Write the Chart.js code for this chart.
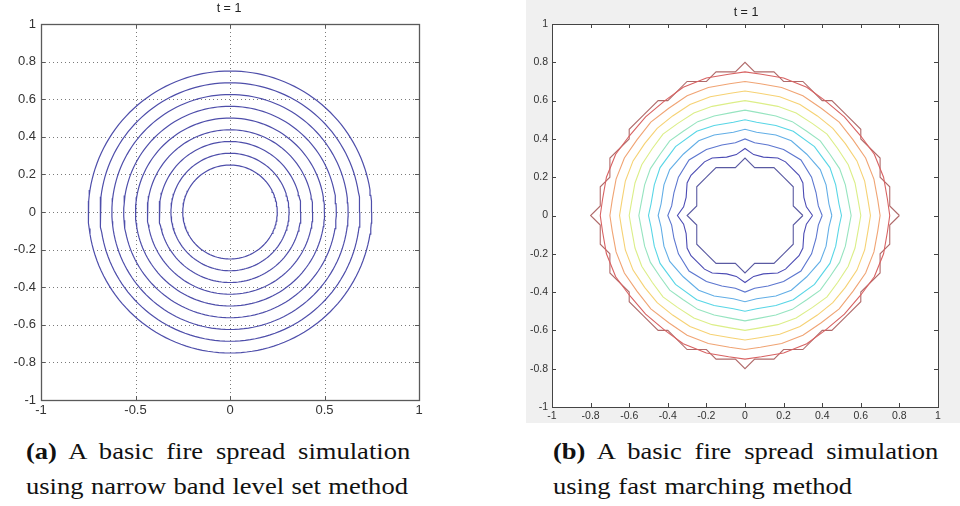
<!DOCTYPE html>
<html><head><meta charset="utf-8">
<script src="https://cdn.jsdelivr.net/npm/chart.js@4/dist/chart.umd.min.js"></script>
<style>
html,body{margin:0;padding:0;background:#fff;width:960px;height:506px;overflow:hidden;position:relative;font-family:"Liberation Sans",Arial,sans-serif;}
canvas{position:absolute;}
#cL{left:0;top:0;}
#cR{left:526px;top:0;background:#f0f0f0;}
.ttl{position:absolute;font-size:12.5px;color:#222;transform:translate(-50%,-50%);white-space:nowrap;}
.cap{position:absolute;font-family:"Liberation Serif",serif;font-size:23.5px;line-height:35px;color:#111;white-space:nowrap;transform:scaleX(1.13);transform-origin:0 0;}
.j{text-align:justify;text-align-last:justify;}
.cap b{font-weight:bold;}
</style></head><body>
<canvas id="cL" width="440" height="425"></canvas>
<canvas id="cR" width="434" height="423"></canvas>
<div class="ttl" style="left:229px;top:8px;">t = 1</div>
<div class="ttl" style="left:746px;top:12px;">t = 1</div>
<div class="cap j" style="left:26px;top:434px;width:340px;"><b>(a)</b> A basic fire spread simulation</div>
<div class="cap j" style="left:26px;top:469px;width:338px;">using narrow band level set method</div>
<div class="cap j" style="left:553px;top:434px;width:341px;"><b>(b)</b> A basic fire spread simulation</div>
<div class="cap" style="left:553px;top:469px;word-spacing:1px;">using fast marching method</div>
<script>
// ---------------- data ----------------
// (a) narrow band level set: radii of the circular contours
const leftRadii = [0.25, 0.3125, 0.375, 0.4375, 0.5, 0.5625, 0.625, 0.6875, 0.75];
const leftXTicks = [-1, -0.5, 0, 0.5, 1];
const leftYTicks = [-1, -0.8, -0.6, -0.4, -0.2, 0, 0.2, 0.4, 0.6, 0.8, 1];

// (b) fast marching: contour levels and the vertices of each contour in the
// first octant (from the +x axis up to the 45 degree diagonal)
const rightLevels = [0.30, 0.35, 0.40, 0.45, 0.50, 0.55, 0.60, 0.65, 0.70, 0.75, 0.80];
const oct030 = [[0.30,0],[0.25,0.05],[0.25,0.15],[0.20,0.20]];
const oct035 = [[0.35,0],[0.318,0.045],[0.305,0.095],[0.30,0.17],[0.28,0.21],[0.245,0.245]];
const oct040 = [[0.40,0],[0.38,0.05],[0.368,0.12],[0.345,0.20],[0.29,0.29]];
const oct045 = [[0.45,0],[0.435,0.06],[0.42,0.16],[0.39,0.24],[0.32,0.32]];
const oct050 = [[0.50,0],[0.487,0.06],[0.47,0.16],[0.44,0.25],[0.36,0.36]];
const oct055 = [[0.55,0],[0.537,0.07],[0.52,0.16],[0.49,0.245],[0.44,0.32],[0.39,0.39]];
const oct060 = [[0.60,0],[0.588,0.07],[0.57,0.17],[0.535,0.265],[0.48,0.35],[0.425,0.425]];
const oct065 = [[0.65,0],[0.638,0.075],[0.62,0.18],[0.58,0.285],[0.52,0.375],[0.455,0.455]];
const oct070 = [[0.70,0],[0.688,0.08],[0.668,0.19],[0.625,0.30],[0.56,0.395],[0.488,0.488]];
const oct075 = [[0.75,0],[0.738,0.085],[0.718,0.20],[0.67,0.32],[0.60,0.415],[0.515,0.515]];
const oct080 = [[0.80,0],[0.75,0.05],[0.75,0.15],[0.70,0.20],[0.70,0.30],[0.60,0.40],[0.60,0.45],[0.525,0.525]];
const rightOctants = [oct030, oct035, oct040, oct045, oct050, oct055, oct060, oct065, oct070, oct075, oct080];
const rightXTicks = [-1, -0.8, -0.6, -0.4, -0.2, 0, 0.2, 0.4, 0.6, 0.8, 1];
const rightYTicks = [-1, -0.8, -0.6, -0.4, -0.2, 0, 0.2, 0.4, 0.6, 0.8, 1];

// ---------------- styles ----------------
const leftColor = '#4e4eaa';
const rightColors = ['#5a5aa2','#4c4cb4','#5c76cf','#62aee6','#58d6e6','#96e4c0','#dcee88','#f6d274','#f0a474','#d86262','#b06a6a'];

// ---------------- geometry helpers ----------------
function circleLoop(r) {
  const pts = [];
  const n = 160;
  for (let k = 0; k <= n; k++) {
    const a = k / n * 2 * Math.PI;
    pts.push({x: r * Math.cos(a), y: r * Math.sin(a)});
  }
  return pts;
}
// mirror an octant polyline into the closed contour (4-fold mirror symmetry)
function loopFromOctant(P) {
  const q1 = P.concat(P.slice(0, -1).reverse().map(([x, y]) => [y, x]));
  const upper = q1.concat(q1.slice(0, -1).reverse().map(([x, y]) => [-x, y]));
  const full = upper.concat(upper.slice(0, -1).reverse().map(([x, y]) => [x, -y]));
  return full.map(([x, y]) => ({x, y}));
}

const framePlugin = {
  id: 'frame',
  beforeDatasetsDraw(chart, args, o) {
    const {ctx, chartArea: a, scales: {x, y}} = chart;
    ctx.save();
    if (o.white) { ctx.fillStyle = '#fff'; ctx.fillRect(a.left, a.top, a.right - a.left, a.bottom - a.top); }
    if (o.grid) {
      ctx.strokeStyle = o.gridColor; ctx.lineWidth = 1; ctx.setLineDash([1, 3]);
      ctx.beginPath();
      for (const v of o.xTicks) { const px = Math.round(x.getPixelForValue(v)) + 0.5; ctx.moveTo(px, a.top); ctx.lineTo(px, a.bottom); }
      for (const v of o.yTicks) { const py = Math.round(y.getPixelForValue(v)) + 0.5; ctx.moveTo(a.left, py); ctx.lineTo(a.right, py); }
      ctx.stroke();
    }
    ctx.restore();
  },
  afterDatasetsDraw(chart, args, o) {
    const {ctx, chartArea: a, scales: {x, y}} = chart;
    ctx.save();
    ctx.strokeStyle = o.color; ctx.lineWidth = 1; ctx.setLineDash([]);
    ctx.beginPath();
    for (const v of o.xTicks) {
      const px = Math.round(x.getPixelForValue(v)) + 0.5;
      ctx.moveTo(px, a.bottom); ctx.lineTo(px, a.bottom - o.tick);
      ctx.moveTo(px, a.top); ctx.lineTo(px, a.top + o.tick);
    }
    for (const v of o.yTicks) {
      const py = Math.round(y.getPixelForValue(v)) + 0.5;
      ctx.moveTo(a.left, py); ctx.lineTo(a.left + o.tick, py);
      ctx.moveTo(a.right, py); ctx.lineTo(a.right - o.tick, py);
    }
    ctx.stroke();
    ctx.lineWidth = o.boxWidth;
    ctx.strokeRect(Math.round(a.left) + 0.5, Math.round(a.top) + 0.5, Math.round(a.right - a.left), Math.round(a.bottom - a.top));
    ctx.restore();
  }
};

function makeOptions(c) {
  const font = {family: '"Liberation Sans", Arial, sans-serif', size: c.fs};
  return {
    responsive: false, animation: false, events: [],
    layout: {padding: {left: 0, top: c.padTop, right: c.padRight, bottom: 0}},
    plugins: {
      legend: {display: false}, tooltip: {enabled: false}, title: {display: false},
      frame: {xTicks: c.xTicks, yTicks: c.yTicks, grid: c.grid, gridColor: '#7a7a7a', color: c.boxColor, tick: c.tick, white: c.white, boxWidth: c.boxWidth}
    },
    scales: {
      x: {
        type: 'linear', min: -1, max: 1,
        afterFit: s => { s.height = c.xH; },
        afterBuildTicks: s => { s.ticks = c.xTicks.map(v => ({value: v})); },
        ticks: {autoSkip: false, maxRotation: 0, minRotation: 0, padding: c.xPad, color: c.labelColor, font, callback: v => String(v)},
        grid: {display: false, drawTicks: false}, border: {display: false}
      },
      y: {
        type: 'linear', min: -1, max: 1,
        afterFit: s => { s.width = c.yW; },
        afterBuildTicks: s => { s.ticks = c.yTicks.map(v => ({value: v})); },
        ticks: {autoSkip: false, padding: c.yPad, color: c.labelColor, font, callback: v => String(v)},
        grid: {display: false, drawTicks: false}, border: {display: false}
      }
    }
  };
}

new Chart(document.getElementById('cL'), {
  type: 'scatter',
  data: {datasets: leftRadii.map(r => ({
    data: circleLoop(r), showLine: true, pointRadius: 0, borderColor: leftColor, borderWidth: 1.2, fill: false, tension: 0
  }))},
  options: makeOptions({fs: 13, padTop: 24, padRight: 21, xH: 25, yW: 41, xPad: 3, yPad: 5,
    xTicks: leftXTicks, yTicks: leftYTicks, grid: true, boxColor: '#5a5a5a', labelColor: '#333', tick: 4, white: false, boxWidth: 1.3}),
  plugins: [framePlugin]
});

new Chart(document.getElementById('cR'), {
  type: 'scatter',
  data: {datasets: rightOctants.map((P, i) => ({
    label: String(rightLevels[i]),
    data: loopFromOctant(P), showLine: true, pointRadius: 0, borderColor: rightColors[i], borderWidth: 1.1, fill: false, tension: 0
  }))},
  options: makeOptions({fs: 10.5, padTop: 24, padRight: 22, xH: 16, yW: 26, xPad: 3, yPad: 4,
    xTicks: rightXTicks, yTicks: rightYTicks, grid: false, boxColor: '#444', labelColor: '#333', tick: 4, white: true, boxWidth: 1}),
  plugins: [framePlugin]
});
</script>
</body></html>
